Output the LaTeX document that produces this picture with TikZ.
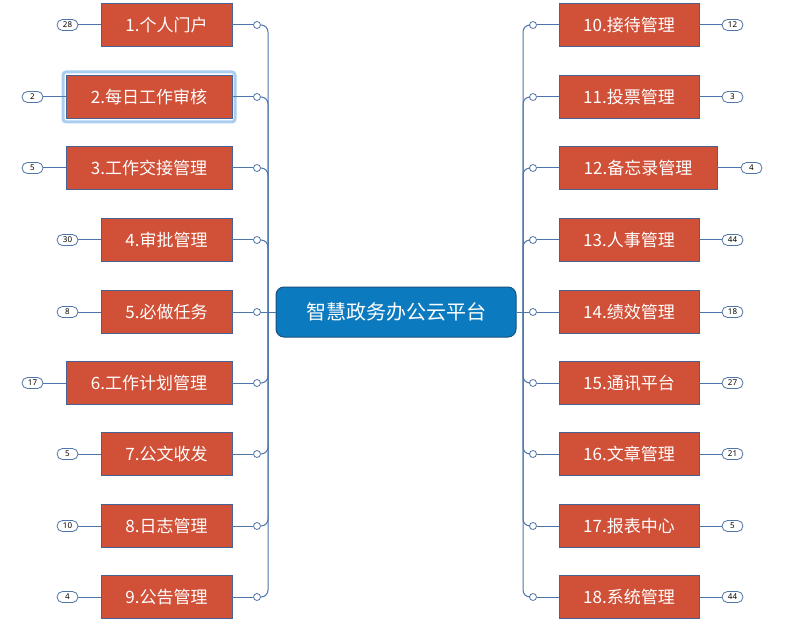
\documentclass[tikz,border=0pt]{standalone}
\usepackage{fontspec}
\setmainfont{Noto Sans}
\newfontfamily\cjk{Noto Sans CJK SC}
\definecolor{boxfill}{RGB}{208,80,56}
\definecolor{boxborder}{RGB}{72,98,148}
\definecolor{linecol}{RGB}{79,118,170}
\definecolor{cfill}{RGB}{12,122,190}
\definecolor{cborder}{RGB}{22,82,128}
\definecolor{halocol}{RGB}{170,205,240}
\tikzset{
  box/.style={draw=boxborder, line width=0.8pt, fill=boxfill, text=white, minimum height=43pt, inner sep=0pt, font=\cjk\fontsize{17}{19}\selectfont},
  badge/.style={draw=linecol, line width=0.8pt, rounded corners=5.5pt, minimum width=21pt, minimum height=11pt, inner sep=0pt, font=\fontsize{8}{9}\selectfont, fill=white},
  dot/.style={circle, draw=linecol, fill=white, minimum size=7pt, inner sep=0pt, line width=0.8pt},
  link/.style={draw=linecol, line width=1pt},
  halo/.style={draw=halocol, line width=3pt, rounded corners=3pt, minimum width=172pt, minimum height=50pt},
  centerbox/.style={draw=cborder, line width=1pt, fill=cfill, text=white, rounded corners=8pt, minimum width=240pt, minimum height=50pt, inner sep=0pt, font=\cjk\fontsize{20}{22}\selectfont}
}
\begin{document}
\begin{tikzpicture}[x=1pt,y=-1pt]
\useasboundingbox[fill=white] (0,0) rectangle (788,623);
\node[halo] (halo) at (149,97) {};
\node[centerbox] (C) at (396,312) {智慧政务办公云平台};
\coordinate (busL) at (268,312);
\coordinate (busR) at (523,312);
% left side
\foreach \i/\y/\w/\cx/\bx/\t/\n in {
  1/25/131/166.5/67.5/1.个人门户/28,
  2/97/166/149/32.5/2.每日工作审核/2,
  3/168/166/149/32.5/3.工作交接管理/5,
  4/240/131/166.5/67.5/4.审批管理/30,
  5/312/131/166.5/67.5/5.必做任务/8,
  6/383/166/149/32.5/6.工作计划管理/17,
  7/454/131/166.5/67.5/7.公文收发/5,
  8/526/131/166.5/67.5/8.日志管理/10,
  9/597/131/166.5/67.5/9.公告管理/4}{
  \node[box, minimum width=\w pt] (L\i) at (\cx,\y) {\t};
  \node[dot] (dL\i) at (257,\y) {};
  \node[badge] (bL\i) at (\bx,\y) {\n};
  \draw[link] (L\i.east) -- (dL\i);
  \draw[link] (bL\i) -- (L\i.west);
}
\foreach \i in {1,2,3,4,6,7,8,9}{
  \draw[link, rounded corners=7pt] (busL) |- (dL\i);
}
% right side
\foreach \i/\y/\w/\cx/\bx/\t/\n in {
  10/25/140/629/732.5/10.接待管理/12,
  11/97/140/629/732.5/11.投票管理/3,
  12/168/158/638/751.5/12.备忘录管理/4,
  13/240/140/629/732.5/13.人事管理/44,
  14/312/140/629/732.5/14.绩效管理/18,
  15/383/140/629/732.5/15.通讯平台/27,
  16/454/140/629/732.5/16.文章管理/21,
  17/526/140/629/732.5/17.报表中心/5,
  18/597/140/629/732.5/18.系统管理/44}{
  \node[box, minimum width=\w pt] (R\i) at (\cx,\y) {\t};
  \node[dot] (dR\i) at (533,\y) {};
  \node[badge] (bR\i) at (\bx,\y) {\n};
  \draw[link] (dR\i) -- (R\i.west);
  \draw[link] (R\i.east) -- (bR\i);
}
\foreach \i in {10,11,12,13,15,16,17,18}{
  \draw[link, rounded corners=7pt] (busR) |- (dR\i);
}
\draw[link] (C.west) -- (dL5);
\draw[link] (C.east) -- (dR14);
\end{tikzpicture}
\end{document}
